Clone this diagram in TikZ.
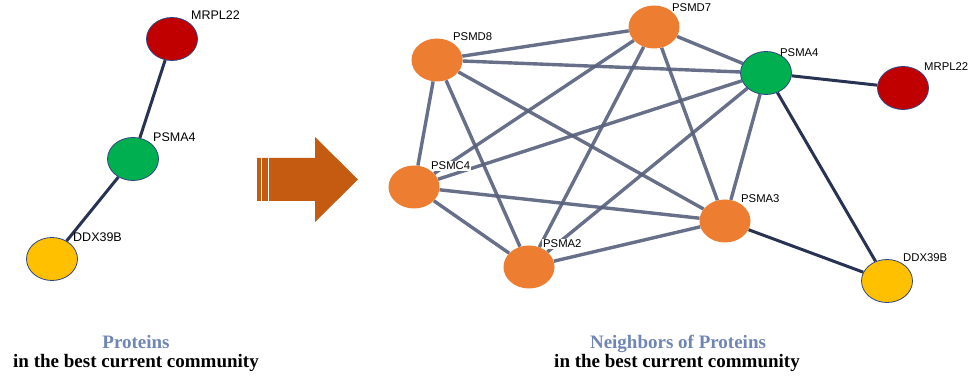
\documentclass[tikz,border=0pt]{standalone}
\usepackage{fontspec}
\newfontfamily\labfont{Liberation Sans}
\newfontfamily\capfont{Liberation Serif}
\usetikzlibrary{shapes.geometric,backgrounds}

\definecolor{protred}{RGB}{192,0,0}
\definecolor{protgreen}{RGB}{0,176,80}
\definecolor{protyellow}{RGB}{255,192,0}
\definecolor{protorange}{RGB}{237,125,49}
\definecolor{rimblue}{RGB}{47,70,130}
\definecolor{darkedge}{RGB}{40,50,82}
\definecolor{greyedge}{RGB}{88,97,124}
\definecolor{arroworange}{RGB}{197,90,17}
\definecolor{titleblue}{RGB}{111,134,180}

\tikzset{
  protein/.style={ellipse, minimum width=51pt, minimum height=43pt, inner sep=0pt},
  ringed/.style={protein, draw=rimblue, line width=0.8pt},
  plain/.style={protein, draw=none},
  leftlab/.style={anchor=west, inner sep=0pt, font=\labfont\fontsize{12.5}{14}\selectfont},
  rightlab/.style={anchor=west, inner sep=0pt, font=\labfont\fontsize{11.3}{13}\selectfont},
  masked/.style={fill=white, inner sep=1pt},
  strong/.style={draw=darkedge, line width=3pt},
  weak/.style={draw=greyedge, line width=3.4pt, opacity=0.9},
  caption/.style={anchor=base, inner sep=0pt, font=\capfont\bfseries\fontsize{19}{22}\selectfont},
}

\begin{document}
\begin{tikzpicture}[x=1pt, y=-1pt]
\useasboundingbox (0,0) rectangle (969,379);

% ---- community on its own ----
\node[ringed, fill=protred]    (lM)  at (172,39)  {};
\node[ringed, fill=protgreen]  (lA4) at (133,159) {};
\node[ringed, fill=protyellow] (lD)  at (52,259)  {};
\begin{scope}[on background layer]
  \draw[strong] (lM) -- (lA4);
  \draw[strong] (lA4) -- (lD);
\end{scope}
\node[leftlab] (tlM)  at (191,15)  {MRPL22};
\node[leftlab] (tlA4) at (153,137) {PSMA4};
\node[leftlab] (tlD)  at (73,237)  {DDX39B};

% ---- block arrow ----
\fill[arroworange] (257,158) -- (315,158) -- (315,137) -- (358,179.5)
  -- (315,222) -- (315,201) -- (257,201) -- cycle;
\draw[white, line width=1.3pt] (261.3,157) -- (261.3,202);
\draw[white, line width=1.3pt] (268.8,157) -- (268.8,202);

% ---- community with its neighbours ----
\node[plain, fill=protorange]  (D8) at (437,60)  {};
\node[plain, fill=protorange]  (D7) at (654,27)  {};
\node[plain, fill=protorange]  (C4) at (414,187) {};
\node[plain, fill=protorange]  (A2) at (529,267) {};
\node[plain, fill=protorange]  (A3) at (725,221) {};
\node[ringed, fill=protgreen]  (A4) at (766,73)  {};
\node[ringed, fill=protred]    (M)  at (903,88)  {};
\node[ringed, fill=protyellow] (D)  at (887,281) {};

\begin{scope}[on background layer]
  \foreach \a/\b in {D8/D7, D8/A4, D8/C4, D8/A2, D8/A3,
                     D7/A4, D7/C4, D7/A2, D7/A3,
                     A4/C4, A4/A2, A4/A3,
                     C4/A3, C4/A2, A2/A3}
    \draw[weak] (\a) -- (\b);
  \draw[strong] (A4) -- (M);
  \draw[strong] (A4) -- (D);
  \draw[strong] (A3) -- (D);
\end{scope}

\node[rightlab]         (tD8) at (453,37)  {PSMD8};
\node[rightlab]         (tD7) at (672,8)   {PSMD7};
\node[rightlab, masked] (tC4) at (430,166) {PSMC4};
\node[rightlab, masked] (tA2) at (542,244) {PSMA2};
\node[rightlab]         (tA3) at (741,199) {PSMA3};
\node[rightlab]         (tA4) at (780,53)  {PSMA4};
\node[rightlab]         (tM)  at (924,67)  {MRPL22};
\node[rightlab]         (tD)  at (903,258) {DDX39B};

% ---- captions ----
\node[caption, text=titleblue] (c1a) at (136,348) {Proteins};
\node[caption]                 (c1b) at (136,367) {in the best current community};
\node[caption, text=titleblue] (c2a) at (678,348) {Neighbors of Proteins};
\node[caption]                 (c2b) at (677,367) {in the best current community};
\end{tikzpicture}
\end{document}
